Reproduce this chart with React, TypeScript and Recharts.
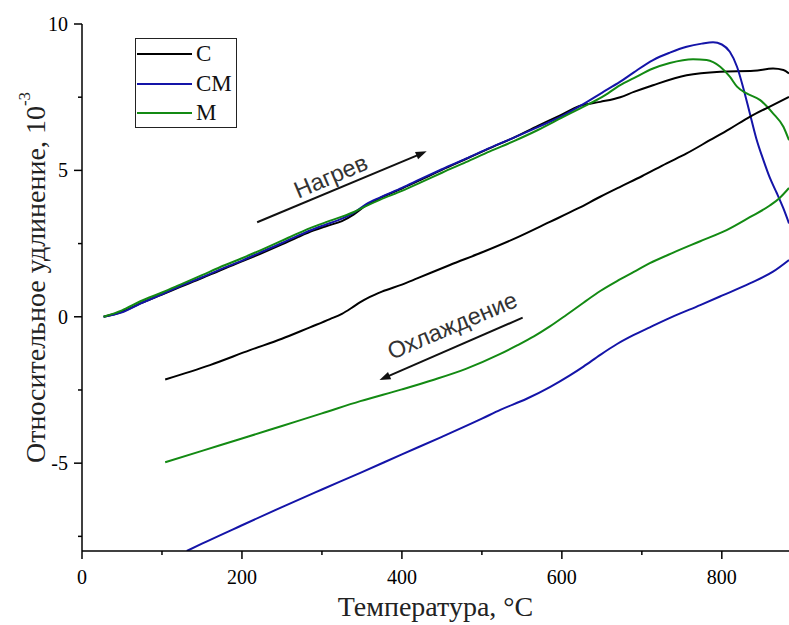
import React from 'react';
import { LineChart, Line, XAxis, YAxis, ReferenceLine, ReferenceDot } from 'recharts';

// ---- axes ----
const xTicks = [0, 100, 200, 300, 400, 500, 600, 700, 800];
const xLabels = [0, 200, 400, 600, 800];
const yTicks = [-7.5, -5, -2.5, 0, 2.5, 5, 7.5, 10];
const yLabels = [-5, 0, 5, 10];

// ---- series names / colours ----
const seriesNames = ['С', 'СМ', 'М'];
const seriesColors = ['#000000', '#1414a8', '#138a13'];

// ---- heating curves [temperature, elongation] ----
const heatC: [number, number][] = [
  [27, 0], [50, 0.17], [73, 0.46], [100, 0.76], [123, 1.02], [150, 1.32], [173, 1.59], [200, 1.89],
  [223, 2.15], [250, 2.47], [270, 2.72], [290, 2.95], [306, 3.1], [325, 3.27], [340, 3.5],
  [355, 3.8], [373, 4.06], [400, 4.38], [423, 4.67], [450, 5.02], [480, 5.39], [510, 5.76],
  [540, 6.12], [570, 6.52], [598, 6.88], [622, 7.2], [648, 7.34], [673, 7.5], [690, 7.68],
  [714, 7.91], [756, 8.25], [798, 8.37], [840, 8.4], [864, 8.48], [877, 8.43], [884, 8.31],
];
const heatCM: [number, number][] = [
  [27, 0], [50, 0.15], [73, 0.45], [100, 0.77], [123, 1.05], [150, 1.35], [173, 1.62], [200, 1.92],
  [223, 2.2], [250, 2.52], [270, 2.77], [290, 3.0], [306, 3.16], [325, 3.35], [340, 3.56],
  [355, 3.84], [373, 4.08], [400, 4.4], [423, 4.7], [450, 5.04], [480, 5.4], [510, 5.77],
  [540, 6.12], [570, 6.48], [600, 6.85], [623, 7.2], [650, 7.65], [673, 8.03], [690, 8.35],
  [714, 8.77], [735, 9.02], [756, 9.22], [775, 9.33], [789, 9.38], [800, 9.3], [810, 9.05],
  [819, 8.54], [827, 7.8], [835, 6.95], [843, 6.1], [852, 5.35], [860, 4.75], [869, 4.21],
  [877, 3.7], [884, 3.19],
];
const heatM: [number, number][] = [
  [27, 0], [50, 0.22], [73, 0.53], [100, 0.83], [123, 1.1], [150, 1.42], [173, 1.7], [200, 2.0],
  [223, 2.27], [250, 2.6], [270, 2.85], [290, 3.08], [306, 3.24], [325, 3.42], [340, 3.58],
  [355, 3.78], [373, 4.0], [400, 4.3], [423, 4.58], [450, 4.92], [480, 5.28], [510, 5.65],
  [540, 6.0], [570, 6.38], [600, 6.8], [623, 7.12], [650, 7.5], [673, 7.91], [690, 8.15],
  [714, 8.48], [735, 8.67], [764, 8.8], [781, 8.77], [798, 8.54], [810, 8.2], [819, 7.86],
  [831, 7.63], [848, 7.4], [864, 6.95], [877, 6.49], [884, 6.03],
];

// ---- cooling curves ----
const coolC: [number, number][] = [
  [104, -2.14], [160, -1.65], [210, -1.14], [250, -0.75], [285, -0.36], [310, -0.08], [325, 0.1],
  [337, 0.3], [348, 0.5], [360, 0.68], [375, 0.86], [400, 1.1], [419, 1.31], [460, 1.77],
  [502, 2.22], [545, 2.72], [585, 3.24], [620, 3.7], [648, 4.1], [673, 4.44], [700, 4.8],
  [731, 5.24], [756, 5.58], [785, 6.03], [810, 6.42], [835, 6.83], [860, 7.18], [884, 7.51],
];
const coolCM: [number, number][] = [
  [131, -8.0], [150, -7.75], [200, -7.12], [250, -6.5], [300, -5.9], [348, -5.33], [400, -4.7],
  [450, -4.1], [500, -3.48], [523, -3.18], [556, -2.8], [585, -2.4], [610, -2.0], [627, -1.7],
  [648, -1.3], [669, -0.93], [690, -0.62], [710, -0.36], [740, 0.02], [773, 0.4], [800, 0.72],
  [835, 1.14], [864, 1.54], [884, 1.94],
];
const coolM: [number, number][] = [
  [104, -4.97], [150, -4.58], [200, -4.16], [250, -3.73], [300, -3.3], [348, -2.88], [400, -2.48],
  [440, -2.15], [480, -1.78], [523, -1.27], [544, -0.98], [565, -0.67], [585, -0.33], [606, 0.07],
  [627, 0.48], [648, 0.88], [669, 1.22], [690, 1.53], [710, 1.83], [740, 2.2], [773, 2.58],
  [806, 2.96], [835, 3.4], [860, 3.8], [872, 4.05], [884, 4.4],
];

const heatSeries = [heatC, heatCM, heatM];
const coolSeries = [coolC, coolCM, coolM];

// ---- annotations (data units) ----
const annoText = ['Нагрев', 'Охлаждение'];
const annoFrom: [number, number][] = [[219, 3.23], [551, -0.03]];
const annoTo: [number, number][] = [[431, 5.65], [372, -2.16]];
const annoLabelAt: [number, number][] = [[311, 4.8], [463, -0.3]];

const toRows = (pts: [number, number][]) => pts.map(([t, v]) => ({ t, v }));

const SERIF = '"Liberation Serif", "Times New Roman", serif';
const SANS = '"Liberation Sans", Arial, sans-serif';

const XTick = (p: any) => {
  const { x, y, payload } = p;
  const major = xLabels.includes(payload.value);
  return (
    <g>
      <line x1={x} y1={y} x2={x} y2={y + (major ? 8 : 4)} stroke="#000" strokeWidth={1.5} />
      {major && (
        <text x={x} y={y + 33} textAnchor="middle" fontFamily={SERIF} fontSize={20} fill="#000">
          {payload.value}
        </text>
      )}
    </g>
  );
};

const YTick = (p: any) => {
  const { x, y, payload } = p;
  const major = yLabels.includes(payload.value);
  return (
    <g>
      <line x1={x} y1={y} x2={x - (major ? 8 : 4)} y2={y} stroke="#000" strokeWidth={1.5} />
      {major && (
        <text x={x - 14} y={y + 7} textAnchor="end" fontFamily={SERIF} fontSize={20} fill="#000">
          {payload.value}
        </text>
      )}
    </g>
  );
};

const XTitle = (p: any) => {
  const vb = p.viewBox;
  return (
    <text x={vb.x + vb.width / 2} y={vb.y + 65} textAnchor="middle" fontFamily={SERIF} fontSize={28} fill="#222">
      Температура, °C
    </text>
  );
};

const YTitle = (p: any) => {
  const vb = p.viewBox;
  const cx = vb.x + 13;
  const cy = vb.y + vb.height / 2 - 10;
  return (
    <text
      x={cx}
      y={cy}
      transform={`rotate(-90 ${cx} ${cy})`}
      textAnchor="middle"
      dominantBaseline="central"
      fontFamily={SERIF}
      fontSize={28}
      fill="#222"
    >
      Относительное удлинение, 10
      <tspan fontSize={17} dy={-11}>-3</tspan>
    </text>
  );
};

const ArrowShape = (p: any) => {
  const { x1, y1, x2, y2 } = p;
  const dx = x2 - x1;
  const dy = y2 - y1;
  const L = Math.hypot(dx, dy) || 1;
  const ux = dx / L;
  const uy = dy / L;
  const hl = 11;
  const hw = 4;
  const bx = x2 - ux * hl;
  const by = y2 - uy * hl;
  return (
    <g>
      <line x1={x1} y1={y1} x2={bx + ux * 2} y2={by + uy * 2} stroke="#111" strokeWidth={2} />
      <polygon
        points={`${x2},${y2} ${bx - uy * hw},${by + ux * hw} ${bx + uy * hw},${by - ux * hw}`}
        fill="#111"
      />
    </g>
  );
};

const makeTextShape = (label: string) => (p: any) => {
  const { cx, cy } = p;
  return (
    <text
      x={cx}
      y={cy}
      transform={`rotate(-23 ${cx} ${cy})`}
      textAnchor="middle"
      dominantBaseline="central"
      fontFamily={SANS}
      fontSize={23.5}
      fill="#333"
    >
      {label}
    </text>
  );
};

const LegendBox = () => (
  <div
    style={{
      position: 'absolute',
      left: 135,
      top: 38,
      width: 102,
      height: 90,
      border: '1.5px solid #222',
      boxSizing: 'border-box',
      background: '#fff',
      fontFamily: SERIF,
      fontSize: 23,
      color: '#111',
    }}
  >
    {seriesNames.map((n, i) => (
      <div key={n} style={{ position: 'absolute', left: 1, top: 2 + i * 29.5, height: 26, display: 'flex', alignItems: 'center' }}>
        <svg width={55} height={4} style={{ display: 'block' }}>
          <line x1={0} y1={2} x2={55} y2={2} stroke={seriesColors[i]} strokeWidth={2.2} />
        </svg>
        <span style={{ marginLeft: 4, lineHeight: '26px' }}>{n}</span>
      </div>
    ))}
  </div>
);

export default function App() {
  return (
    <div style={{ position: 'absolute', left: 0, top: 0, width: 789, height: 625, background: '#fff' }}>
      <LineChart width={789} height={625} margin={{ top: 24, right: 0, left: 22, bottom: 24 }}>
        <XAxis
          type="number"
          dataKey="t"
          domain={[0, 884]}
          ticks={xTicks}
          interval={0}
          allowDataOverflow
          tickLine={false}
          tickSize={0}
          tickMargin={0}
          tick={<XTick />}
          axisLine={{ stroke: '#000', strokeWidth: 1.5 }}
          height={50}
          label={XTitle}
        />
        <YAxis
          type="number"
          domain={[-8, 10]}
          ticks={yTicks}
          interval={0}
          allowDataOverflow
          tickLine={false}
          tickSize={0}
          tickMargin={0}
          tick={<YTick />}
          axisLine={{ stroke: '#000', strokeWidth: 1.5 }}
          width={60}
          label={YTitle}
        />
        {heatSeries.map((s, i) => (
          <Line
            key={`h${i}`}
            data={toRows(s)}
            dataKey="v"
            name={seriesNames[i]}
            type="monotone"
            stroke={seriesColors[i]}
            strokeWidth={2}
            dot={false}
            activeDot={false}
            isAnimationActive={false}
          />
        ))}
        {coolSeries.map((s, i) => (
          <Line
            key={`c${i}`}
            data={toRows(s)}
            dataKey="v"
            name={`${seriesNames[i]} cool`}
            legendType="none"
            type="monotone"
            stroke={seriesColors[i]}
            strokeWidth={2}
            dot={false}
            activeDot={false}
            isAnimationActive={false}
          />
        ))}
        {annoText.map((t, i) => (
          <ReferenceLine
            key={`a${i}`}
            segment={[
              { x: annoFrom[i][0], y: annoFrom[i][1] },
              { x: annoTo[i][0], y: annoTo[i][1] },
            ]}
            ifOverflow="visible"
            shape={ArrowShape}
          />
        ))}
        {annoText.map((t, i) => (
          <ReferenceDot
            key={`l${i}`}
            x={annoLabelAt[i][0]}
            y={annoLabelAt[i][1]}
            r={1}
            ifOverflow="visible"
            shape={makeTextShape(t)}
          />
        ))}
      </LineChart>
      <LegendBox />
    </div>
  );
}
